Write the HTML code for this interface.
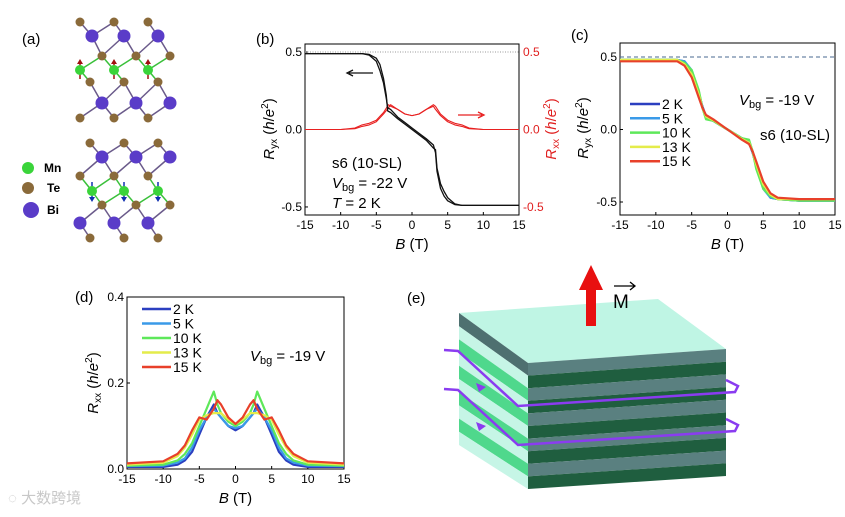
<!DOCTYPE html>
<html><head><meta charset="utf-8"><style>
body{margin:0;background:#fff}
svg{display:block;font-family:"Liberation Sans","Noto Sans CJK SC",sans-serif}
</style></head><body>
<svg id="fig" width="845" height="517" viewBox="0 0 845 517" xmlns="http://www.w3.org/2000/svg">
<g id="pa"></g>
<text x="22" y="44" font-size="15">(a)</text>
<g font-size="12" font-weight="bold">
<circle cx="28" cy="168" r="6" fill="#3ad43a"/><text x="44" y="172">Mn</text>
<circle cx="28" cy="188" r="6" fill="#8a6a3a"/><text x="47" y="192">Te</text>
<circle cx="31" cy="210" r="8" fill="#5a3cc8"/><text x="47" y="214">Bi</text>
</g>
<g id="pb"></g>
<g id="pc"></g>
<g id="pd"></g>
<g id="pe">
<text x="407" y="303" font-size="15">(e)</text>
<polygon points="459,313 658,299 726,349 528,363" fill="#bff5e4"/>
<g id="leftface"></g><g id="frontface"></g>
<polygon points="586,326 596,326 596,290 603,290 591,265 579,290 586,290" fill="#e81010"/>
<text x="613" y="308" font-size="19">M</text>
<path d="M614,286 H635 M630,282 L635,286 L630,290" stroke="#000" stroke-width="1.3" fill="none"/>
<g fill="none" stroke="#8a3cf0" stroke-width="2.5">
<polyline points="444,350 458,351 518,406 735,392 738,386 726,380"/>
<polyline points="444,389 458,390 518,445 735,431 738,425 726,419"/>
</g>
<polygon points="476,383 486,387 479,392" fill="#8a3cf0"/>
<polygon points="476,422 486,426 479,431" fill="#8a3cf0"/>
</g>
<text x="8" y="503" font-size="15" fill="#c8c8c8">◌ 大数跨境</text>
</svg>
<script>
var NS="http://www.w3.org/2000/svg";
function mk(p,t,a){var e=document.createElementNS(NS,t);for(var k in a)e.setAttribute(k,a[k]);p.appendChild(e);return e;}

// ---- panel b data ----
var bB=[-15,-10,-7,-6,-5,-4.5,-4,-3.6,-3.4,-3,-2,-1,0,1,2,3,3.3,3.5,4,4.5,5,6,7,10,15];
var bRyx1=[0.49,0.49,0.49,0.485,0.46,0.42,0.33,0.22,0.12,0.11,0.07,0.035,0,-0.035,-0.07,-0.12,-0.13,-0.25,-0.35,-0.4,-0.44,-0.48,-0.49,-0.49,-0.49];
var bRyx2=[0.49,0.49,0.49,0.48,0.44,0.38,0.3,0.2,0.14,0.13,0.08,0.045,0.01,-0.025,-0.06,-0.1,-0.15,-0.27,-0.38,-0.43,-0.46,-0.485,-0.49,-0.49,-0.49];
var bBx=[-15,-10,-8,-7,-6,-5,-4,-3.3,-3,-2,-1,0,1,2,3,3.3,4,5,6,7,8,10,15];
var bRxx1=[0,0,0.01,0.03,0.04,0.06,0.11,0.16,0.15,0.13,0.1,0.09,0.1,0.13,0.16,0.15,0.1,0.06,0.04,0.03,0.01,0,0];
var bRxx2=[0,0,0.005,0.02,0.03,0.05,0.1,0.14,0.16,0.13,0.1,0.09,0.1,0.13,0.15,0.13,0.09,0.05,0.03,0.02,0.005,0,0];
// ---- panel c data ----
var cB=[-15,-10,-7,-6,-5,-4,-3.5,-3,-2,-1,0,1,2,3,3.5,4,5,6,7,10,15];
var cLabels=["2 K","5 K","10 K","13 K","15 K"];
var c2=[0.48,0.48,0.48,0.47,0.4,0.25,0.16,0.09,0.06,0.03,0,-0.03,-0.06,-0.09,-0.16,-0.25,-0.4,-0.47,-0.48,-0.49,-0.49];
var c5=[0.48,0.48,0.48,0.47,0.41,0.26,0.15,0.08,0.06,0.03,0,-0.03,-0.06,-0.08,-0.15,-0.26,-0.41,-0.47,-0.48,-0.49,-0.49];
var c10=[0.48,0.48,0.48,0.46,0.41,0.27,0.15,0.07,0.06,0.03,0,-0.03,-0.06,-0.07,-0.15,-0.27,-0.41,-0.46,-0.48,-0.49,-0.49];
var c13=[0.48,0.48,0.48,0.45,0.38,0.24,0.15,0.09,0.065,0.032,0,-0.032,-0.065,-0.09,-0.15,-0.24,-0.38,-0.45,-0.48,-0.48,-0.48];
var c15=[0.47,0.47,0.47,0.44,0.36,0.22,0.15,0.1,0.07,0.035,0,-0.035,-0.07,-0.1,-0.15,-0.22,-0.36,-0.44,-0.47,-0.48,-0.48];
// ---- panel d data ----
var dB=[-15,-10,-8,-7,-6,-5,-4,-3,-2.5,-2,-1,0,1,2,2.5,3,4,5,6,7,8,10,15];
var d2=[0.005,0.005,0.01,0.02,0.04,0.08,0.12,0.15,0.13,0.12,0.1,0.09,0.1,0.12,0.13,0.15,0.12,0.08,0.04,0.02,0.01,0.005,0.005];
var d5=[0.007,0.008,0.015,0.025,0.05,0.09,0.12,0.14,0.13,0.12,0.1,0.095,0.1,0.12,0.13,0.14,0.12,0.09,0.05,0.025,0.015,0.008,0.007];
var d10=[0.008,0.01,0.02,0.035,0.06,0.1,0.14,0.18,0.15,0.13,0.11,0.1,0.11,0.13,0.15,0.18,0.14,0.1,0.06,0.035,0.02,0.01,0.008];
var d13=[0.01,0.015,0.03,0.05,0.08,0.115,0.125,0.13,0.13,0.13,0.115,0.105,0.115,0.13,0.13,0.13,0.125,0.115,0.08,0.05,0.03,0.015,0.01];
var d15=[0.013,0.018,0.035,0.055,0.09,0.12,0.115,0.14,0.16,0.15,0.12,0.105,0.12,0.15,0.16,0.14,0.115,0.12,0.09,0.055,0.035,0.018,0.013];
var colors=["#2b3fc0","#3a9ae8","#5ee85a","#e4ec4a","#e8402a"];
var xTicks=[-15,-10,-5,0,5,10,15];

function axes(g,L,R,T,Bt,ymin,ymax,yTicks,yFmt){
  var sx=function(v){return L+(v+15)/30*(R-L);};
  var sy=function(v){return Bt-(v-ymin)/(ymax-ymin)*(Bt-T);};
  var fr=mk(g,'rect',{x:L,y:T,width:R-L,height:Bt-T,fill:'none',stroke:'#000','stroke-width':1});
  
  
  xTicks.forEach(function(t){
    mk(g,'line',{x1:sx(t),x2:sx(t),y1:Bt,y2:Bt-3,stroke:'#000'});
    var tx=mk(g,'text',{x:sx(t),y:Bt+14,'font-size':12,'text-anchor':'middle'});tx.textContent=t;
    
    
  });
  yTicks.forEach(function(t){
    mk(g,'line',{x1:L,x2:L+3,y1:sy(t),y2:sy(t),stroke:'#000'});
    var tx=mk(g,'text',{x:L-3,y:sy(t)+4,'font-size':12,'text-anchor':'end'});tx.textContent=yFmt(t);
    
    
  });
  var xl=mk(g,'text',{x:(L+R)/2,y:Bt+34,'font-size':15,'text-anchor':'middle'});
  xl.innerHTML='<tspan font-style="italic">B</tspan> (T)';
  
  
  return {sx:sx,sy:sy};
}
function line(g,sc,xs,ys,col,w,name){
  var d=xs.map(function(x,i){return (i?'L':'M')+sc.sx(x).toFixed(1)+','+sc.sy(ys[i]).toFixed(1);}).join(' ');
  var p=mk(g,'path',{d:d,fill:'none',stroke:col,'stroke-width':w,'stroke-linejoin':'round'});
  
  
}
function ylab(g,x,y,html,col){
  var t=mk(g,'text',{x:0,y:0,'font-size':15,'text-anchor':'middle',transform:'translate('+x+','+y+') rotate(-90)',fill:col||'#000'});
  t.innerHTML=html;
  
  
}
var f1=function(t){return t.toFixed(1);};

// panel b
var gb=document.getElementById('pb');
var sb=axes(gb,305,519,44,215,-0.5-(215-207)/77*0.5,0.5+(52-44)/77*0.5,[-0.5,0,0.5],f1);
mk(gb,'line',{x1:305,x2:519,y1:sb.sy(0.5),y2:sb.sy(0.5),stroke:'#999','stroke-dasharray':'1,1.5'});
[-0.5,0,0.5].forEach(function(t){var tx=mk(gb,'text',{x:523,y:sb.sy(t)+4,'font-size':12,fill:'#e02020'});tx.textContent=f1(t);

});
line(gb,sb,bBx,bRxx1,'#e82020',1.1,'rxx-sweep-up');
line(gb,sb,bBx,bRxx2,'#e82020',1.1,'rxx-sweep-down');
line(gb,sb,bB,bRyx1,'#111',1.3,'ryx-sweep-up');
line(gb,sb,bB,bRyx2,'#111',1.3,'ryx-sweep-down');
ylab(gb,274,129,'<tspan font-style="italic">R</tspan><tspan font-size="10" dy="3">yx</tspan><tspan dy="-3"> (</tspan><tspan font-style="italic">h</tspan>/<tspan font-style="italic">e</tspan><tspan font-size="10" dy="-6">2</tspan><tspan dy="6">)</tspan>');
ylab(gb,556,129,'<tspan font-style="italic">R</tspan><tspan font-size="10" dy="3">xx</tspan><tspan dy="-3"> (</tspan><tspan font-style="italic">h</tspan>/<tspan font-style="italic">e</tspan><tspan font-size="10" dy="-6">2</tspan><tspan dy="6">)</tspan>','#e02020');
gb.insertAdjacentHTML('beforeend','<text x="256" y="44" font-size="15">(b)</text><path d="M373,73 H349 M353,70 L347,73 L353,76" stroke="#111" stroke-width="1.3" fill="none"/><path d="M458,115 H482 M478,112 L484,115 L478,118" stroke="#e82020" stroke-width="1.3" fill="none"/><text x="332" y="168" font-size="15">s6 (10-SL)</text><text x="332" y="188" font-size="15"><tspan font-style="italic">V</tspan><tspan font-size="11" dy="3">bg</tspan><tspan dy="-3"> = -22 V</tspan></text><text x="332" y="208" font-size="15"><tspan font-style="italic">T</tspan> = 2 K</text>');

// panel c
var gc=document.getElementById('pc');
var sc=axes(gc,620,835,43,215,-0.5-(215-202)/145*1,0.5+(57-43)/145*1,[-0.5,0,0.5],f1);
mk(gc,'line',{x1:620,x2:835,y1:sc.sy(0.5),y2:sc.sy(0.5),stroke:'#4a6a90','stroke-dasharray':'4,3'});
[c2,c5,c10,c13,c15].forEach(function(s,i){line(gc,sc,cB,s,colors[i],2.2,'ryx-'+cLabels[i].replace(' ','').toLowerCase());});
cLabels.forEach(function(l,i){var y=104+i*14.3;mk(gc,'line',{x1:630,x2:660,y1:y,y2:y,stroke:colors[i],'stroke-width':2.5});
var t=mk(gc,'text',{x:662,y:y+5,'font-size':14});t.textContent=l;

});
ylab(gc,588,128,'<tspan font-style="italic">R</tspan><tspan font-size="10" dy="3">yx</tspan><tspan dy="-3"> (</tspan><tspan font-style="italic">h</tspan>/<tspan font-style="italic">e</tspan><tspan font-size="10" dy="-6">2</tspan><tspan dy="6">)</tspan>');
gc.insertAdjacentHTML('beforeend','<text x="571" y="40" font-size="15">(c)</text><text x="739" y="105" font-size="15"><tspan font-style="italic">V</tspan><tspan font-size="11" dy="3">bg</tspan><tspan dy="-3"> = -19 V</tspan></text><text x="760" y="140" font-size="15">s6 (10-SL)</text>');

// panel d
var gd=document.getElementById('pd');
var sd=axes(gd,127,344,297,469,0,0.4,[0,0.2,0.4],f1);
[d2,d5,d10,d13,d15].forEach(function(s,i){line(gd,sd,dB,s,colors[i],2.2,'rxx-'+cLabels[i].replace(' ','').toLowerCase());});
cLabels.forEach(function(l,i){var y=309+i*14.5;mk(gd,'line',{x1:142,x2:171,y1:y,y2:y,stroke:colors[i],'stroke-width':2.5});
var t=mk(gd,'text',{x:173,y:y+5,'font-size':14});t.textContent=l;

});
ylab(gd,98,383,'<tspan font-style="italic">R</tspan><tspan font-size="10" dy="3">xx</tspan><tspan dy="-3"> (</tspan><tspan font-style="italic">h</tspan>/<tspan font-style="italic">e</tspan><tspan font-size="10" dy="-6">2</tspan><tspan dy="6">)</tspan>');
gd.insertAdjacentHTML('beforeend','<text x="75" y="302" font-size="15">(d)</text><text x="250" y="361" font-size="15"><tspan font-style="italic">V</tspan><tspan font-size="11" dy="3">bg</tspan><tspan dy="-3"> = -19 V</tspan></text>');

// panel e stripes
var lf=document.getElementById('leftface'),ff=document.getElementById('frontface');
var n=10;
for(var i=0;i<n;i++){
  var t0=i/n,t1=(i+1)/n;
  var lc=i===0?'#4e7070':(i%2?'#c6f5e6':'#4fd88c');
  mk(lf,'polygon',{points:[[459,313+t0*132],[528,363+t0*126],[528,363+t1*126],[459,313+t1*132]].map(function(p){return p.join(',');}).join(' '),fill:lc});
  var fc=i%2?'#1f5e3f':'#5a8080';
  mk(ff,'polygon',{points:[[528,363+t0*126],[726,349+t0*127],[726,349+t1*127],[528,363+t1*126]].map(function(p){return p.join(',');}).join(' '),fill:fc});
}

// panel a crystal
var ga=document.getElementById('pa');
var rows=[
 ['Te',22,[80,114,148]],['Bi',36,[92,124,158]],['Te',56,[102,136,170]],['Mn',70,[80,114,148]],
 ['Te',82,[90,124,158]],['Bi',103,[102,136,170]],['Te',118,[80,114,148]],
 ['Te',143,[90,124,158]],['Bi',157,[102,136,170]],['Te',176,[80,114,148]],['Mn',191,[92,124,158]],
 ['Te',205,[102,136,170]],['Bi',223,[80,114,148]],['Te',238,[90,124,158]]];
var col={Te:'#8a6a3a',Bi:'#5a3cc8',Mn:'#3ad43a'},rad={Te:4.5,Bi:6.5,Mn:5};
for(var r=0;r<rows.length-1;r++){
  if(r===6)continue;
  rows[r][2].forEach(function(x){rows[r+1][2].forEach(function(x2){if(Math.abs(x-x2)<24)
    mk(ga,'line',{x1:x,y1:rows[r][1],x2:x2,y2:rows[r+1][1],stroke:(rows[r][0]==='Mn'||rows[r+1][0]==='Mn')?'#3ac03a':'#6a5a8a','stroke-width':1.5});});});
}
rows.forEach(function(rw){rw[2].forEach(function(x){
  if(rw[0]==='Mn'){var up=rw[1]<100;mk(ga,'line',{x1:x,x2:x,y1:rw[1]-9,y2:rw[1]+9,stroke:up?'#a01010':'#1030b0','stroke-width':1.5});
   mk(ga,'polygon',{points:up?(x-3)+','+(rw[1]-6)+' '+(x+3)+','+(rw[1]-6)+' '+x+','+(rw[1]-11):(x-3)+','+(rw[1]+6)+' '+(x+3)+','+(rw[1]+6)+' '+x+','+(rw[1]+11),fill:up?'#a01010':'#1030b0'});}
  mk(ga,'circle',{cx:x,cy:rw[1],r:rad[rw[0]],fill:col[rw[0]]});
});});
</script>
</body></html>
